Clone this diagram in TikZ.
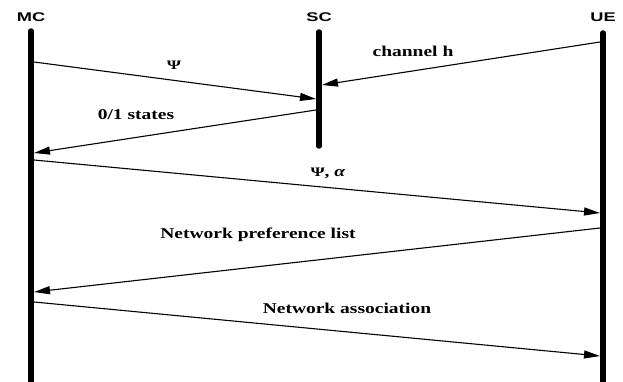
\documentclass[tikz,border=0pt]{standalone}
\usepackage{fontspec}
\setmainfont{Liberation Serif}
\newfontfamily\hdrfont{Liberation Sans}
\usetikzlibrary{arrows.meta}
\newcommand\wideH[1]{\scalebox{1.45}[1]{#1}}
\newcommand\wideL[1]{\scalebox{1.3}[1]{#1}}
\newcommand\smallPsi{{\fontsize{13}{14}\selectfont\scalebox{1.4}[1]{Ψ}}}
\begin{document}
\begin{tikzpicture}[x=1pt,y=-1pt,
  life/.style={line width=5.5pt, line cap=round},
  msg/.style={line width=1.1pt, -{Triangle[length=16pt,width=8pt]}},
  hdr/.style={font=\hdrfont\bfseries\fontsize{12.6}{14}\selectfont, inner sep=0},
  lbl/.style={inner sep=0, anchor=base, font=\bfseries\fontsize{15}{17}\selectfont}]
\useasboundingbox (0,0) rectangle (623,382);
% headers
\node[hdr] (MC) at (31,17) {\wideH{MC}};
\node[hdr] (SC) at (319,17) {\wideH{SC}};
\node[hdr] (UE) at (603,17) {\wideH{UE}};
% lifelines
\coordinate (mcTop) at (31,31);
\coordinate (mcBot) at (31,392);
\coordinate (scTop) at (319,32);
\coordinate (scBot) at (319,146);
\coordinate (ueTop) at (603,33);
\coordinate (ueBot) at (603,392);
\draw[life] (mcTop) -- (mcBot);
\draw[life] (scTop) -- (scBot);
\draw[life] (ueTop) -- (ueBot);
% message end points
\coordinate (m1s) at (34,62);   \coordinate (m1e) at (316,99);
\coordinate (m2s) at (600,42);  \coordinate (m2e) at (322,85);
\coordinate (m3s) at (316,110); \coordinate (m3e) at (34,153);
\coordinate (m4s) at (34,160);  \coordinate (m4e) at (600,213);
\coordinate (m5s) at (600,228); \coordinate (m5e) at (34,292);
\coordinate (m6s) at (34,302);  \coordinate (m6e) at (600,356);
\draw[msg] (m1s) -- (m1e);
\draw[msg] (m2s) -- (m2e);
\draw[msg] (m3s) -- (m3e);
\draw[msg] (m4s) -- (m4e);
\draw[msg] (m5s) -- (m5e);
\draw[msg] (m6s) -- (m6e);
% labels
\node[lbl] (l1) at (174,70) {\smallPsi};
\node[lbl] (l2) at (413,57) {\wideL{channel h}};
\node[lbl] (l3) at (136,120) {\wideL{0/1 states}};
\node[lbl] (l4) at (328,177) {\smallPsi\wideL{, \textit{α}}};
\node[lbl] (l5) at (258,238) {\wideL{Network preference list}};
\node[lbl] (l6) at (347,313) {\wideL{Network association}};
\end{tikzpicture}
\end{document}
